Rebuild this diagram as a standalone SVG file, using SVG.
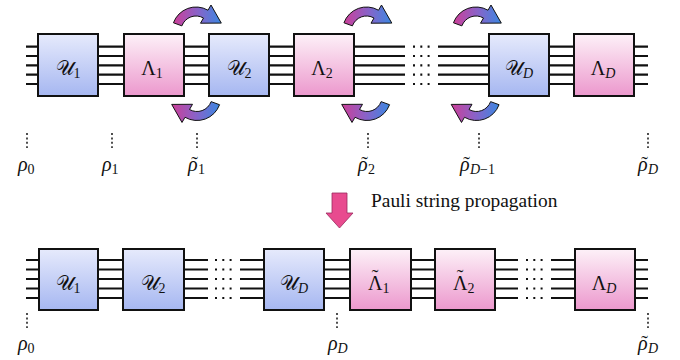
<svg xmlns="http://www.w3.org/2000/svg" width="680" height="360" viewBox="0 0 680 360">
<defs>
<linearGradient id="gU" x1="0" y1="0" x2="0" y2="1"><stop offset="0" stop-color="#e6eafc"/><stop offset="1" stop-color="#a6b7f1"/></linearGradient>
<linearGradient id="gL" x1="0" y1="0" x2="0" y2="1"><stop offset="0" stop-color="#fdf1f8"/><stop offset="1" stop-color="#ec98cd"/></linearGradient>
<linearGradient id="gA1" x1="0" y1="0" x2="1" y2="0"><stop offset="0" stop-color="#cc3f98"/><stop offset="0.5" stop-color="#8a62c8"/><stop offset="1" stop-color="#3a88e2"/></linearGradient>
<linearGradient id="gA2" x1="1" y1="0" x2="0" y2="0"><stop offset="0" stop-color="#cc3f98"/><stop offset="0.5" stop-color="#8a62c8"/><stop offset="1" stop-color="#3a88e2"/></linearGradient>
<path id="carrow" d="M -22.55,-8.21 A 24 24 0 0 1 12,-20.78 L 15,-25.98 L 25.3,-7.9 L 4.5,-7.79 L 7.5,-12.99 A 15 15 0 0 0 -14.1,-5.13 Z"/>
</defs>
<style>
.w{stroke:#111;stroke-width:2.2;fill:none}
.dot{stroke:#111;stroke-width:2.2;stroke-dasharray:2 5.3;fill:none}
.vd{stroke:#222;stroke-width:1.6;stroke-dasharray:2 2.4;fill:none}
.bu{fill:url(#gU);stroke:#111;stroke-width:2}
.bl{fill:url(#gL);stroke:#111;stroke-width:2}
.t{font-family:"Liberation Serif","Times New Roman",serif;fill:#111}
.lab{font-size:20px}
.rho{font-size:20px;font-style:italic}
.sub{font-size:14px}
.it{font-style:italic}
.up{font-style:normal}
.a1{fill:url(#gA1);stroke:#111;stroke-width:1}
.a2{fill:url(#gA2);stroke:#111;stroke-width:1}
</style>
<rect width="680" height="360" fill="#fff"/>
<g id="connectors">
<g id="wires-top">
<path class="w" d="M26,46.7H405M26,56H405M26,65.3H405M26,74.7H405M26,84H405"/>
<path class="w" d="M438,46.7H648M438,56H648M438,65.3H648M438,74.7H648M438,84H648"/>
<path class="dot" d="M413,46.7H432M413,56H432M413,65.3H432M413,74.7H432M413,84H432"/>
</g>
<g id="wires-bottom">
<path class="w" d="M26,260H208M26,269.5H208M26,279H208M26,288.5H208M26,298H208"/>
<path class="w" d="M240,260H518M240,269.5H518M240,279H518M240,288.5H518M240,298H518"/>
<path class="w" d="M551,260H648M551,269.5H648M551,279H648M551,288.5H648M551,298H648"/>
<path class="dot" d="M215,260H234M215,269.5H234M215,279H234M215,288.5H234M215,298H234"/>
<path class="dot" d="M526,260H545M526,269.5H545M526,279H545M526,288.5H545M526,298H545"/>
</g>
<g id="swap-arrows">
<use href="#carrow" class="a1" transform="translate(196,31)"/>
<use href="#carrow" class="a2" transform="translate(197,96.5) rotate(180)"/>
<use href="#carrow" class="a1" transform="translate(366.5,31)"/>
<use href="#carrow" class="a2" transform="translate(367,96.5) rotate(180)"/>
<use href="#carrow" class="a1" transform="translate(476,31)"/>
<use href="#carrow" class="a2" transform="translate(476.5,96.5) rotate(180)"/>
</g>
<g id="state-markers">
<path class="vd" d="M27,133V148M112,133V148M197,133V148M368,133V148M479,133V148M648,133V148"/>
<path class="vd" d="M27,313V328M337,313V328M648,313V328"/>
</g>
<path id="down-arrow" d="M332,193H347V213H353L339.5,228L326,213H332Z" fill="#e84b8f" stroke="#9b2a5e" stroke-width="0.8"/>
</g>
<g id="top-U1"><rect class="bu" x="38" y="34" width="60" height="62"/><text class="t lab" x="68" y="75" text-anchor="middle">𝒰<tspan class="sub" dy="3">1</tspan></text></g>
<g id="top-L1"><rect class="bl" x="124" y="34" width="60" height="62"/><text class="t lab" x="152" y="75" text-anchor="middle">Λ<tspan class="sub" dy="3">1</tspan></text></g>
<g id="top-U2"><rect class="bu" x="209" y="34" width="60" height="62"/><text class="t lab" x="239" y="75" text-anchor="middle">𝒰<tspan class="sub" dy="3">2</tspan></text></g>
<g id="top-L2"><rect class="bl" x="294" y="34" width="60" height="62"/><text class="t lab" x="322" y="75" text-anchor="middle">Λ<tspan class="sub" dy="3">2</tspan></text></g>
<g id="top-UD"><rect class="bu" x="489" y="34" width="60" height="62"/><text class="t lab" x="519" y="75" text-anchor="middle">𝒰<tspan class="sub it" dy="3">D</tspan></text></g>
<g id="top-LD"><rect class="bl" x="574" y="34" width="60" height="62"/><text class="t lab" x="603" y="75" text-anchor="middle">Λ<tspan class="sub it" dy="3">D</tspan></text></g>
<g id="top-labels">
<text class="t rho" x="18" y="171">ρ<tspan class="sub up" dy="3">0</tspan></text>
<text class="t rho" x="102" y="171">ρ<tspan class="sub up" dy="3">1</tspan></text>
<text class="t rho" x="188" y="171">ρ<tspan class="up" dx="-6.4">˜</tspan><tspan class="sub up" dy="3">1</tspan></text>
<text class="t rho" x="358" y="171">ρ<tspan class="up" dx="-6.4">˜</tspan><tspan class="sub up" dy="3">2</tspan></text>
<text class="t rho" x="460" y="171">ρ<tspan class="up" dx="-6.4">˜</tspan><tspan class="sub" dy="3">D</tspan><tspan class="sub up">−1</tspan></text>
<text class="t rho" x="638" y="171">ρ<tspan class="up" dx="-6.4">˜</tspan><tspan class="sub" dy="3">D</tspan></text>
</g>
<g id="caption"><text class="t" x="371" y="207" font-size="19.4">Pauli string propagation</text></g>
<g id="bot-U1"><rect class="bu" x="39" y="249" width="59" height="61"/><text class="t lab" x="68" y="290" text-anchor="middle">𝒰<tspan class="sub" dy="3">1</tspan></text></g>
<g id="bot-U2"><rect class="bu" x="123" y="249" width="61" height="61"/><text class="t lab" x="153" y="290" text-anchor="middle">𝒰<tspan class="sub" dy="3">2</tspan></text></g>
<g id="bot-UD"><rect class="bu" x="264" y="249" width="60" height="61"/><text class="t lab" x="294" y="290" text-anchor="middle">𝒰<tspan class="sub it" dy="3">D</tspan></text></g>
<g id="bot-L1"><rect class="bl" x="350" y="249" width="61" height="61"/><text class="t lab" x="368" y="290">Λ<tspan dx="-10.75" dy="-6">˜</tspan><tspan class="sub" dx="4" dy="9">1</tspan></text></g>
<g id="bot-L2"><rect class="bl" x="435" y="249" width="60" height="61"/><text class="t lab" x="453" y="290">Λ<tspan dx="-10.75" dy="-6">˜</tspan><tspan class="sub" dx="4" dy="9">2</tspan></text></g>
<g id="bot-LD"><rect class="bl" x="575" y="249" width="60" height="61"/><text class="t lab" x="604" y="290" text-anchor="middle">Λ<tspan class="sub it" dy="3">D</tspan></text></g>
<g id="bottom-labels">
<text class="t rho" x="18" y="350">ρ<tspan class="sub up" dy="3">0</tspan></text>
<text class="t rho" x="328" y="350">ρ<tspan class="sub" dy="3">D</tspan></text>
<text class="t rho" x="638" y="350">ρ<tspan class="up" dx="-6.4">˜</tspan><tspan class="sub" dy="3">D</tspan></text>
</g>
</svg>
